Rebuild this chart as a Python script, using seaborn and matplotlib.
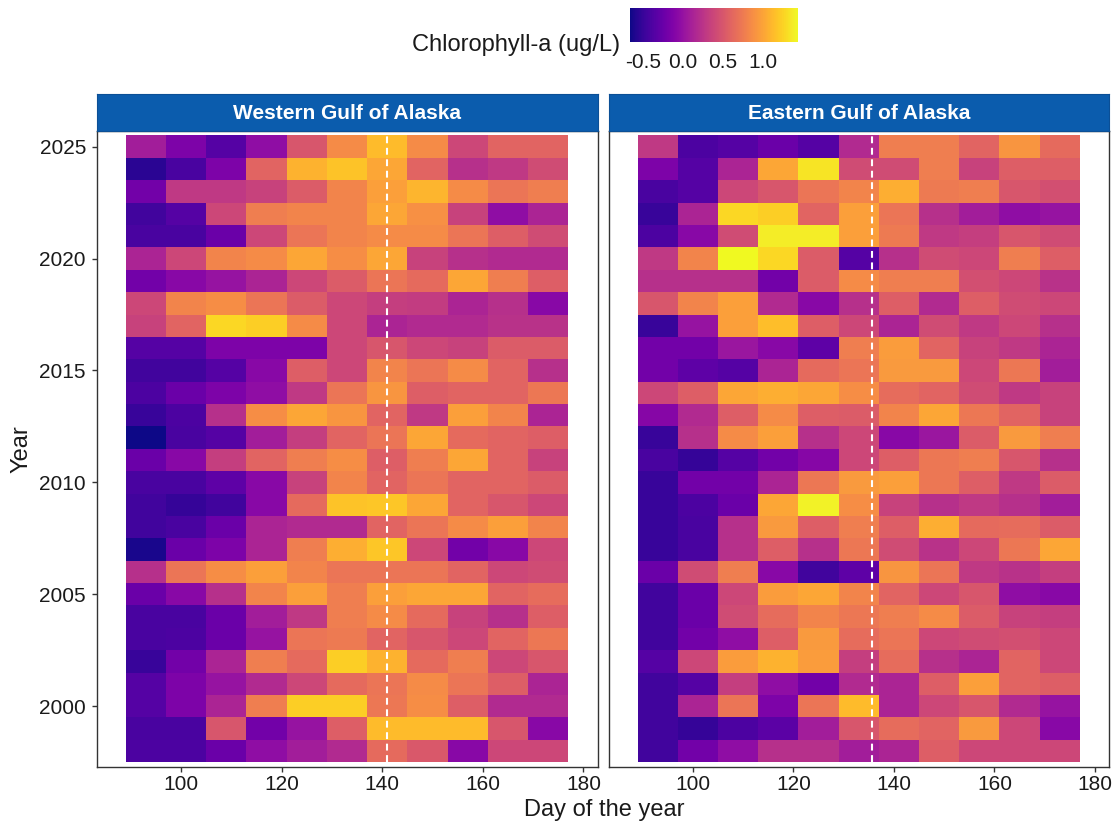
import numpy as np
import pandas as pd
import matplotlib
matplotlib.use("Agg")
import matplotlib.pyplot as plt
import seaborn as sns

# ---- data: 8-day composite chlorophyll-a anomalies (ug/L) ----
years = [2025, 2024, 2023, 2022, 2021, 2020, 2019, 2018, 2017, 2016,
         2015, 2014, 2013, 2012, 2011, 2010, 2009, 2008, 2007, 2006,
         2005, 2004, 2003, 2002, 2001, 2000, 1999, 1998]
bin_start = [89, 97, 105, 113, 121, 129, 137, 145, 153, 161, 169]
bin_days = 8

western = [
    [0.08, -0.14, -0.35, -0.03, 0.50, 0.85, 1.13, 0.85, 0.39, 0.60, 0.60],
    [-0.56, -0.41, -0.14, 0.60, 1.08, 1.17, 1.02, 0.60, 0.22, 0.29, 0.43],
    [-0.20, 0.29, 0.29, 0.35, 0.54, 0.81, 0.98, 1.10, 0.85, 0.71, 0.77],
    [-0.45, -0.35, 0.39, 0.77, 0.81, 0.81, 1.02, 0.89, 0.35, -0.03, 0.14],
    [-0.41, -0.41, -0.24, 0.39, 0.71, 0.81, 0.85, 0.85, 0.71, 0.56, 0.43],
    [0.14, 0.39, 0.81, 0.85, 1.02, 0.87, 1.02, 0.35, 0.22, 0.18, 0.18],
    [-0.20, -0.07, 0.01, 0.14, 0.39, 0.54, 0.71, 0.64, 1.02, 0.77, 0.56],
    [0.39, 0.81, 0.87, 0.71, 0.54, 0.39, 0.33, 0.31, 0.14, 0.22, -0.07],
    [0.35, 0.60, 1.27, 1.23, 0.85, 0.39, 0.14, 0.18, 0.18, 0.24, 0.24],
    [-0.35, -0.35, -0.14, -0.14, -0.14, 0.39, 0.50, 0.39, 0.35, 0.54, 0.54],
    [-0.45, -0.45, -0.35, -0.07, 0.56, 0.39, 0.81, 0.71, 0.85, 0.60, 0.22],
    [-0.39, -0.24, -0.14, -0.03, 0.29, 0.71, 0.92, 0.56, 0.60, 0.60, 0.73],
    [-0.49, -0.39, 0.22, 0.87, 1.02, 0.92, 0.60, 0.29, 0.98, 0.81, 0.14],
    [-0.66, -0.41, -0.35, 0.08, 0.33, 0.60, 0.71, 1.02, 0.64, 0.60, 0.56],
    [-0.24, -0.07, 0.33, 0.60, 0.77, 0.87, 0.56, 0.77, 1.02, 0.60, 0.35],
    [-0.41, -0.41, -0.30, -0.07, 0.35, 0.81, 0.60, 0.71, 0.60, 0.60, 0.54],
    [-0.45, -0.51, -0.45, -0.07, 0.64, 1.17, 1.19, 1.02, 0.60, 0.50, 0.39],
    [-0.45, -0.41, -0.24, 0.14, 0.18, 0.18, 0.60, 0.71, 0.85, 0.98, 0.81],
    [-0.62, -0.24, -0.14, 0.14, 0.77, 1.06, 1.19, 0.39, -0.20, -0.07, 0.39],
    [0.22, 0.71, 0.87, 0.98, 0.81, 0.71, 0.71, 0.71, 0.60, 0.39, 0.43],
    [-0.24, -0.07, 0.22, 0.81, 0.98, 0.77, 0.98, 1.02, 1.02, 0.60, 0.66],
    [-0.41, -0.41, -0.24, 0.08, 0.29, 0.77, 0.85, 0.64, 0.35, 0.22, 0.56],
    [-0.41, -0.39, -0.24, 0.01, 0.71, 0.75, 0.60, 0.50, 0.39, 0.60, 0.73],
    [-0.49, -0.20, 0.14, 0.77, 0.64, 1.23, 1.08, 0.64, 0.77, 0.39, 0.50],
    [-0.35, -0.14, 0.01, 0.18, 0.39, 0.64, 0.71, 0.85, 0.71, 0.56, 0.14],
    [-0.35, -0.14, 0.14, 0.77, 1.23, 1.23, 0.73, 0.87, 0.56, 0.18, 0.18],
    [-0.41, -0.41, 0.50, -0.20, 0.01, 0.56, 1.13, 1.13, 1.13, 0.50, -0.07],
    [-0.39, -0.39, -0.24, -0.03, 0.08, 0.18, 0.64, 0.52, -0.07, 0.39, 0.39],
]

eastern = [
    [0.29, -0.39, -0.35, -0.24, -0.35, 0.18, 0.77, 0.77, 0.60, 0.92, 0.64],
    [-0.14, -0.35, 0.14, 1.02, 1.34, 0.43, 0.43, 0.77, 0.35, 0.56, 0.56],
    [-0.41, -0.35, 0.39, 0.50, 0.71, 0.81, 1.06, 0.75, 0.77, 0.50, 0.45],
    [-0.49, 0.14, 1.27, 1.23, 0.60, 0.98, 0.71, 0.22, 0.08, -0.03, 0.01],
    [-0.39, -0.07, 0.43, 1.38, 1.38, 0.98, 0.75, 0.29, 0.33, 0.50, 0.43],
    [0.29, 0.81, 1.44, 1.27, 0.54, -0.35, 0.22, 0.43, 0.39, 0.77, 0.56],
    [0.22, 0.22, 0.22, -0.20, 0.54, 0.85, 0.77, 0.77, 0.45, 0.39, 0.24],
    [0.50, 0.81, 0.98, 0.18, -0.07, 0.22, 0.56, 0.18, 0.56, 0.43, 0.39],
    [-0.49, 0.01, 0.98, 1.15, 0.56, 0.39, 0.14, 0.43, 0.29, 0.39, 0.22],
    [-0.20, -0.20, 0.03, -0.07, -0.30, 0.77, 0.96, 0.60, 0.35, 0.29, 0.14],
    [-0.20, -0.30, -0.35, 0.14, 0.64, 0.71, 0.94, 0.94, 0.39, 0.73, 0.08],
    [0.39, 0.56, 1.02, 1.06, 1.02, 0.87, 0.66, 0.60, 0.43, 0.29, 0.35],
    [-0.09, 0.18, 0.56, 0.85, 0.56, 0.54, 0.81, 1.02, 0.73, 0.60, 0.35],
    [-0.49, 0.22, 0.85, 0.98, 0.22, 0.39, -0.07, 0.03, 0.54, 0.94, 0.77],
    [-0.41, -0.51, -0.35, -0.20, -0.09, 0.39, 0.56, 0.73, 0.77, 0.50, 0.22],
    [-0.49, -0.20, -0.20, 0.14, 0.73, 0.94, 0.98, 0.73, 0.56, 0.29, 0.54],
    [-0.49, -0.39, -0.24, 1.02, 1.40, 0.87, 0.35, 0.22, 0.29, 0.22, 0.08],
    [-0.49, -0.41, 0.22, 0.94, 0.56, 0.77, 0.56, 1.06, 0.64, 0.66, 0.54],
    [-0.49, -0.41, 0.22, 0.56, 0.22, 0.73, 0.43, 0.24, 0.39, 0.73, 1.02],
    [-0.24, 0.43, 0.77, -0.07, -0.45, -0.30, 0.92, 0.71, 0.29, 0.24, 0.33],
    [-0.45, -0.24, 0.39, 0.96, 1.02, 0.81, 0.60, 0.39, 0.50, -0.03, -0.07],
    [-0.45, -0.24, 0.43, 0.66, 0.81, 0.73, 0.77, 0.85, 0.54, 0.35, 0.33],
    [-0.45, -0.20, -0.03, 0.56, 0.94, 0.66, 0.71, 0.39, 0.43, 0.45, 0.39],
    [-0.35, 0.39, 0.96, 1.08, 0.96, 0.33, 0.66, 0.22, 0.14, 0.60, 0.39],
    [-0.45, -0.35, 0.33, -0.03, -0.20, 0.18, 0.14, 0.56, 0.98, 0.60, 0.56],
    [-0.45, 0.14, 0.71, -0.14, 0.71, 1.13, 0.14, 0.39, 0.50, 0.18, 0.01],
    [-0.45, -0.51, -0.39, -0.32, 0.08, 0.50, 0.66, 0.60, 0.94, 0.39, -0.07],
    [-0.45, -0.20, -0.03, 0.22, 0.22, 0.08, 0.14, 0.56, 0.39, 0.39, 0.39],
]

regions = ["Western Gulf of Alaska", "Eastern Gulf of Alaska"]
region_values = [western, eastern]
mean_bloom_day = [140.9, 135.7]   # dashed reference line per region
cbar_ticks = [-0.5, 0.0, 0.5, 1.0]
x_ticks = [100, 120, 140, 160, 180]
y_ticks = [2000, 2005, 2010, 2015, 2020, 2025]

# long table: one row per (region, year, 8-day bin)
records = []
for region, grid in zip(regions, region_values):
    for yr, row in zip(years, grid):
        for start, val in zip(bin_start, row):
            records.append({"region": region, "year": yr,
                            "day": start + bin_days / 2, "chla": val})
df = pd.DataFrame(records)

x_edges = bin_start + [bin_start[-1] + bin_days]
y_edges = [y - 0.5 for y in sorted(years)] + [max(years) + 0.5]
vmin, vmax = df["chla"].min(), df["chla"].max()

# ---- styling ----
sns.set_theme(style="white")
plt.rcParams["font.family"] = ["Liberation Sans", "DejaVu Sans"]
plt.rcParams["axes.unicode_minus"] = False

W, H = 1118, 825
fig = plt.figure(figsize=(W / 100, H / 100), dpi=100)


def box(l, t, r, b):
    return [l / W, 1 - b / H, (r - l) / W, (b - t) / H]


panel_px = [(96.5, 597.5), (608.5, 1109.0)]
top_px, bottom_px, strip_top_px = 131, 767, 94.3
frame_col = "#333333"
text_col = "#1a1a1a"
tick_fs, title_fs = 15, 17

meshes = []
for i, (region, (l, r)) in enumerate(zip(regions, panel_px)):
    ax = fig.add_axes(box(l, top_px, r, bottom_px))
    sub = df[df["region"] == region]
    sns.histplot(data=sub, x="day", y="year", weights="chla",
                 bins=[x_edges, y_edges], thresh=None, cmap="plasma",
                 cbar=False, ax=ax)
    mesh = ax.collections[-1]
    mesh.set_cmap("plasma")
    mesh.set_clim(vmin, vmax)
    meshes.append(mesh)

    ax.vlines(mean_bloom_day[i], y_edges[0], y_edges[-1], colors="white",
              linestyles=(0, (3.3, 2.2)), linewidth=1.5, zorder=3)

    ax.set_xlim(83.2, 182.8)
    ax.set_ylim(y_edges[0] - 0.22, y_edges[-1] + 0.2)
    ax.set_xticks(x_ticks)
    ax.set_yticks(y_ticks)
    ax.set_xlabel("")
    ax.set_ylabel("")
    for sp in ax.spines.values():
        sp.set_visible(True)
        sp.set_color(frame_col)
        sp.set_linewidth(1.0)
    ax.tick_params(axis="both", which="major", direction="out", length=3.6,
                   width=1.0, color=frame_col, labelsize=tick_fs,
                   labelcolor=text_col)
    ax.tick_params(axis="x", bottom=True, top=False, pad=2.5)
    if i == 0:
        ax.tick_params(axis="y", left=True, right=False, pad=4)
    else:
        ax.tick_params(axis="y", left=False, right=False, labelleft=False)
    ax.grid(False)

    # facet strip
    sax = fig.add_axes(box(l, strip_top_px, r, top_px))
    sax.set_facecolor("#0B5CAD")
    sax.set_xticks([])
    sax.set_yticks([])
    for sp in sax.spines.values():
        sp.set_color("#0B4F96")
        sp.set_linewidth(0.8)
    sax.text(0.5, 0.48, region, transform=sax.transAxes, ha="center",
             va="center", color="white", fontsize=15, fontweight="bold")

# axis titles
fig.text(604 / W, 1 - 810 / H, "Day of the year", ha="center", va="center",
         fontsize=title_fs, color=text_col)
fig.text(22 / W, 1 - 449 / H, "Year", ha="center", va="center",
         rotation=90, fontsize=title_fs, color=text_col)

# colour bar legend on top
cax = fig.add_axes(box(630, 8, 798, 42))
cb = fig.colorbar(meshes[0], cax=cax, orientation="horizontal")
cb.outline.set_visible(False)
cb.set_ticks(cbar_ticks)
cb.set_ticklabels([f"{t:.1f}" for t in cbar_ticks])
cax.tick_params(axis="x", direction="in", length=6, width=0.8,
                color="white", top=True, bottom=True, labeltop=False,
                labelbottom=True, labelsize=tick_fs, labelcolor=text_col,
                pad=8)
fig.text(620 / W, 1 - 45 / H, "Chlorophyll-a (ug/L)", ha="right",
         va="center", fontsize=title_fs, color=text_col)

fig.savefig("out.png", dpi=100)
